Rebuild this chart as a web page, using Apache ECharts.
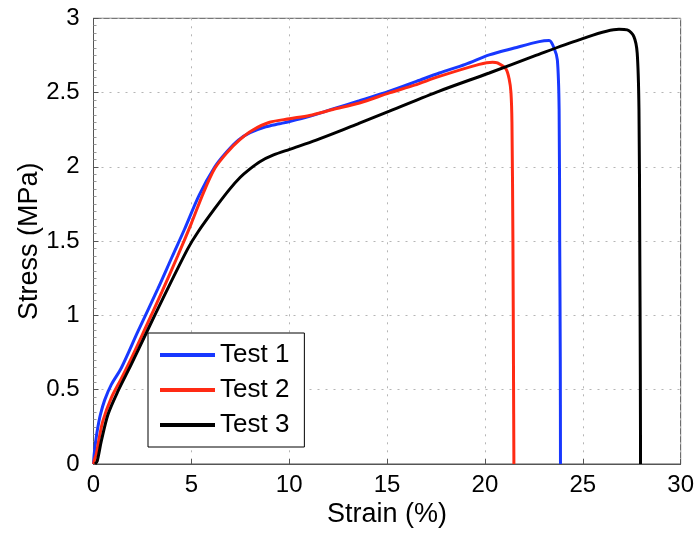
<!DOCTYPE html>
<html>
<head>
<meta charset="utf-8">
<script src="https://cdn.jsdelivr.net/npm/echarts@6/dist/echarts.min.js"></script>
<style>
  html, body { margin: 0; padding: 0; background: #fff; }
  #main { width: 697px; height: 533px; }
</style>
</head>
<body>
<div id="main"></div>
<script>
// strain (%) / stress (MPa)
const test1Strain = [0, 0.03, 0.1, 0.2, 0.35, 0.57, 0.91, 1.42, 2.27, 3.29, 4.0, 4.65, 5.4, 6.2, 6.8, 7.4, 8.0, 8.8, 9.5, 10.02, 11.04, 12.23, 13.59, 15.12, 16.5, 17.67, 19.0, 20.22, 21.5, 22.77, 23.28, 23.53, 23.7, 23.79, 23.82, 23.85, 23.86];
const test1Stress = [0, 0.06, 0.14, 0.23, 0.33, 0.43, 0.534, 0.646, 0.892, 1.18, 1.39, 1.58, 1.81, 2.0, 2.1, 2.18, 2.23, 2.27, 2.29, 2.305, 2.34, 2.39, 2.445, 2.509, 2.575, 2.632, 2.69, 2.754, 2.8, 2.843, 2.85, 2.80, 2.72, 2.39, 1.5, 0.7, 0];

const test2Strain = [0, 0.05, 0.14, 0.3, 0.48, 0.91, 1.42, 2.0, 2.7, 3.5, 4.3, 5.0, 5.6, 6.2, 6.85, 7.45, 8.1, 9.0, 10.02, 11.04, 12.23, 13.59, 15.12, 16.4, 17.67, 19.71, 20.39, 20.64, 21.07, 21.24, 21.33, 21.38, 21.43, 21.46, 21.48];
const test2Stress = [0, 0.03, 0.065, 0.18, 0.29, 0.445, 0.575, 0.73, 0.93, 1.16, 1.4, 1.62, 1.82, 1.99, 2.1, 2.18, 2.245, 2.3, 2.324, 2.346, 2.386, 2.43, 2.498, 2.55, 2.609, 2.69, 2.705, 2.7, 2.66, 2.59, 2.5, 2.3, 1.5, 0.6, 0];

const test3Strain = [0.08, 0.19, 0.4, 0.74, 1.25, 1.93, 2.69, 3.63, 4.82, 5.33, 6.2, 6.96, 7.5, 7.98, 8.5, 9.2, 10.02, 11.38, 12.57, 13.59, 15.12, 17.67, 20.22, 22.5, 24.81, 26.85, 27.27, 27.61, 27.78, 27.87, 27.91, 27.94, 27.95];
const test3Stress = [0, 0.02, 0.155, 0.333, 0.49, 0.67, 0.88, 1.137, 1.45, 1.56, 1.72, 1.85, 1.93, 1.985, 2.035, 2.08, 2.118, 2.18, 2.24, 2.295, 2.375, 2.51, 2.632, 2.745, 2.855, 2.926, 2.922, 2.877, 2.766, 2.39, 1.5, 0.6, 0];

const legendNames = ['Test 1', 'Test 2', 'Test 3'];
const lineColors = ['#1838ff', '#ff2a14', '#000000'];

const zip = (xs, ys) => xs.map((x, i) => [x, ys[i]]);
const curves = [zip(test1Strain, test1Stress), zip(test2Strain, test2Stress), zip(test3Strain, test3Stress)];

const font = 'Liberation Sans, Arial, sans-serif';
const gridDots = { show: true, lineStyle: { color: '#b5b5b5', width: 1, type: [2, 6] } };

const chart = echarts.init(document.getElementById('main'));
chart.setOption({
  animation: false,
  backgroundColor: '#fff',
  textStyle: { fontFamily: font },
  grid: {
    left: 93.5, right: 15.3, top: 18.3, bottom: 66.5,
    show: true, borderColor: '#555', borderWidth: 1
  },
  legend: {
    data: legendNames,
    orient: 'vertical',
    left: 148, top: 333,
    padding: [9, 15, 9, 12],
    itemGap: 9,
    itemWidth: 55,
    itemHeight: 4,
    icon: 'rect',
    borderColor: '#000', borderWidth: 1,
    backgroundColor: '#fff',
    textStyle: { fontSize: 26, color: '#000', fontFamily: font }
  },
  xAxis: {
    type: 'value',
    min: 0, max: 30, interval: 5,
    name: 'Strain (%)',
    nameLocation: 'middle',
    nameGap: 37,
    nameMoveOverlap: false,
    nameTextStyle: { fontSize: 27, color: '#000', fontFamily: font },
    axisLine: { show: true, onZero: false, lineStyle: { color: '#555' } },
    axisTick: { show: true, inside: true, length: 5, lineStyle: { color: '#555' } },
    axisLabel: { fontSize: 24, color: '#000', margin: 9, fontFamily: font },
    splitLine: gridDots
  },
  yAxis: {
    type: 'value',
    min: 0, max: 3, interval: 0.5,
    name: 'Stress (MPa)',
    nameLocation: 'middle',
    nameGap: 50,
    nameMoveOverlap: false,
    nameTextStyle: { fontSize: 27, color: '#000', fontFamily: font },
    axisLine: { show: true, onZero: false, lineStyle: { color: '#555' } },
    axisTick: { show: true, inside: true, length: 5, lineStyle: { color: '#555' } },
    minorTick: { show: true, splitNumber: 10, length: 3, lineStyle: { color: '#999' } },
    axisLabel: { fontSize: 24, color: '#000', margin: 14, fontFamily: font },
    splitLine: gridDots
  },
  series: legendNames.map((name, i) => ({
    name: name,
    type: 'line',
    data: curves[i],
    showSymbol: false,
    symbol: 'none',
    smooth: 0.3,
    color: lineColors[i],
    lineStyle: { color: lineColors[i], width: 3 }
  }))
});
</script>
</body>
</html>
